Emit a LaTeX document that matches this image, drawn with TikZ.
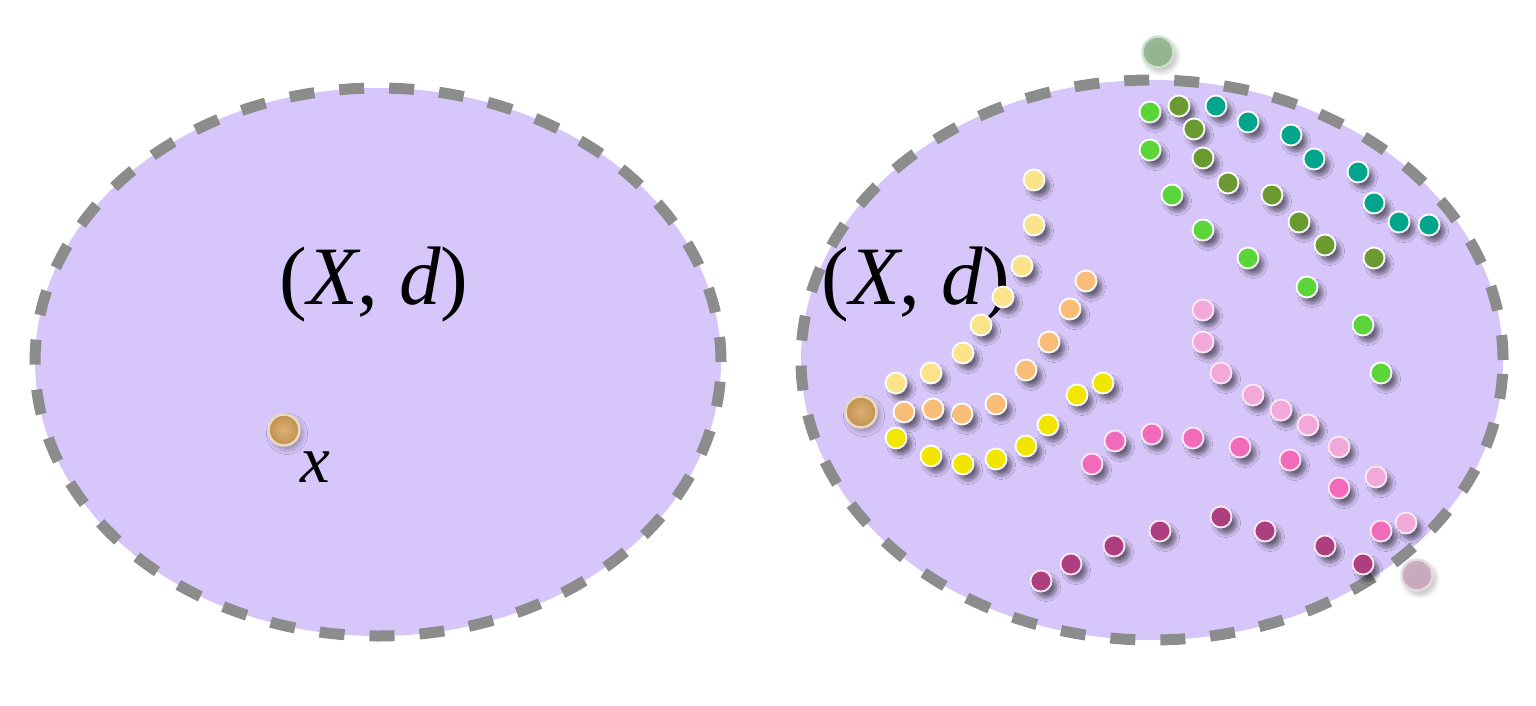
\documentclass[tikz,border=0pt]{standalone}
\usepackage{fontspec}
\setmainfont{Liberation Serif}
\usetikzlibrary{shadows.blur}
\definecolor{lav}{HTML}{D6C6F9}
\definecolor{dashgray}{HTML}{8C8C8C}
\definecolor{lgreen}{HTML}{5AD53A}
\definecolor{dgreen}{HTML}{6A9A30}
\definecolor{teal2}{HTML}{00A58C}
\definecolor{lyellow}{HTML}{FBE38A}
\definecolor{orange2}{HTML}{F9BD78}
\definecolor{yellow2}{HTML}{F2E500}
\definecolor{lpink}{HTML}{F2A9DA}
\definecolor{pink2}{HTML}{F26BBA}
\definecolor{mag}{HTML}{AD3F80}
\definecolor{brownball}{HTML}{C0924F}
\definecolor{greenball}{HTML}{8FB58C}
\definecolor{pinkball}{HTML}{C9AABD}
\tikzset{
  space/.style={fill=lav},
  border/.style={draw=dashgray, line width=11pt, dash pattern=on 25pt off 25pt},
  dot/.style={circle, inner sep=0pt, minimum size=21pt, line width=1.8pt, draw=white,
    blur shadow={shadow xshift=5pt, shadow yshift=-6pt, shadow blur radius=4pt, shadow opacity=50, shadow blur steps=8}},
  pdot/.style={dot, draw=white!85!pink2},
  ball/.style={circle, inner sep=0pt, minimum size=31pt, line width=2.5pt,
    blur shadow={shadow xshift=3pt, shadow yshift=-4pt, shadow blur radius=5pt, shadow opacity=30, shadow blur steps=8}},
  label/.style={font=\fontsize{83}{95}\selectfont, inner sep=0pt, anchor=base},
}
\begin{document}
\begin{tikzpicture}[x=1pt,y=-1pt]
\useasboundingbox (0,0) rectangle (1536,706);
% left space
\fill[space] (378,362) ellipse [x radius=343pt, y radius=274pt];
\draw[border] (378,362) ellipse [x radius=343pt, y radius=274pt];
\node[label] (XdL) at (374,304) {(\textit{X}, \textit{d})};
\node[ball, draw=white!65!brownball, inner color=brownball!75!orange!70!white, outer color=brownball] (bx) at (284,430) {};
\node[font=\fontsize{67}{80}\selectfont\itshape, inner sep=0pt, anchor=base] (lx) at (315,482) {x};
% right space
\fill[space] (1152,360) ellipse [x radius=351pt, y radius=280pt];
\draw[border] (1152,360) ellipse [x radius=351pt, y radius=280pt];
\node[label] (XdR) at (916,304) {(\textit{X}, \textit{d})};
% balls
\node[ball, draw=white!65!brownball, inner color=brownball!75!orange!70!white, outer color=brownball] (bR) at (861,412) {};
\node[ball, draw=white!60!greenball, fill=greenball, opacity=0.9] (bG) at (1158,52) {};
\node[ball, draw=white!60!pinkball, fill=pinkball, opacity=0.9] (bP) at (1417,575) {};
% dots
\foreach \x/\y in {1150/112,1150/150,1172/195,1203/230,1248/258,1307/287,1363/325,1381/373}
  \node[dot, fill=lgreen] at (\x,\y) {};
\foreach \x/\y in {1179/106,1194/129,1203/158,1228/183,1272/195,1299/222,1325/245,1374/258}
  \node[dot, fill=dgreen] at (\x,\y) {};
\foreach \x/\y in {1216/106,1248/122,1291/135,1314/159,1358/172,1374/203,1399/222,1429/225}
  \node[dot, fill=teal2] at (\x,\y) {};
\foreach \x/\y in {1034/180,1034/225,1022/266,1003/297,981/325,963/353,931/373,896/383}
  \node[dot, fill=lyellow] at (\x,\y) {};
\foreach \x/\y in {1086/281,1070/309,1049/342,1026/370,996/404,962/414,933/409,904/412}
  \node[dot, fill=orange2] at (\x,\y) {};
\foreach \x/\y in {1103/383,1077/395,1048/425,1026/446,996/459,963/464,931/456,896/438}
  \node[dot, fill=yellow2] at (\x,\y) {};
\foreach \x/\y in {1203/310,1203/342,1221/373,1253/395,1281/410,1308/425,1339/447,1376/477,1406/523}
  \node[pdot, fill=lpink] at (\x,\y) {};
\foreach \x/\y in {1092/464,1115/441,1152/434,1193/438,1240/447,1290/460,1339/488,1381/531}
  \node[pdot, fill=pink2] at (\x,\y) {};
\foreach \x/\y in {1041/581,1071/564,1114/546,1160/531,1221/517,1265/531,1325/546,1363/564}
  \node[pdot, fill=mag] at (\x,\y) {};
\end{tikzpicture}
\end{document}
